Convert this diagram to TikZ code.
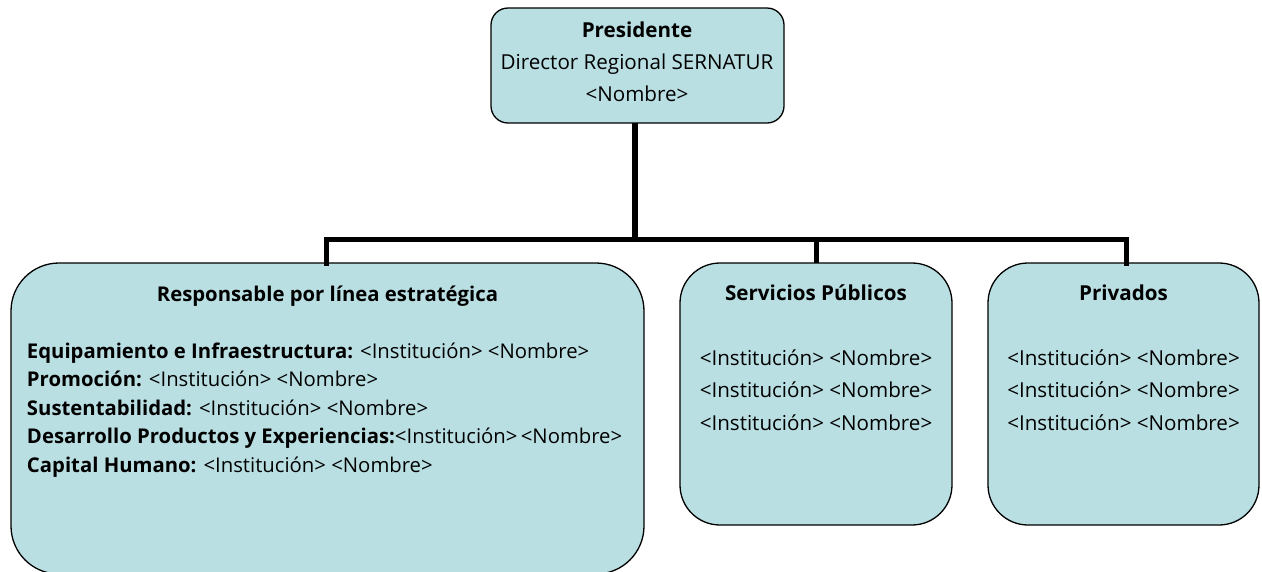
\documentclass[tikz,border=0pt]{standalone}
\usepackage{fontspec}
\setmainfont{Open Sans}
\definecolor{boxfill}{RGB}{185,223,227}
\begin{document}
\begin{tikzpicture}[x=1pt,y=-1pt,
  box/.style={draw=black,line width=1.3pt,fill=boxfill,inner sep=0pt,outer sep=0pt},
  conn/.style={line width=5pt,draw=black,line cap=rect},
  txt/.style={inner sep=0pt,outer sep=0pt,font=\fontsize{20.6}{24}\selectfont},
  ttl/.style={txt,anchor=base,font=\fontsize{20.6}{24}\selectfont\bfseries},
  ltxt/.style={inner sep=0pt,outer sep=0pt,font=\fontsize{20.3}{24}\selectfont},
  lttl/.style={ltxt,anchor=base,font=\fontsize{20.3}{24}\selectfont\bfseries},
  ln/.style={ltxt,anchor=base west},
  lnc/.style={txt,anchor=base}]
\useasboundingbox (0,0) rectangle (1262,571);
% boxes
\node[box,rounded corners=17pt,minimum width=293pt,minimum height=115pt] (pres) at (637.5,65.5) {};
\node[box,rounded corners=48pt,minimum width=633pt,minimum height=311pt] (resp) at (327.5,418.5) {};
\node[box,rounded corners=40pt,minimum width=272pt,minimum height=262pt] (serv) at (816,394) {};
\node[box,rounded corners=40pt,minimum width=271pt,minimum height=262pt] (priv) at (1123.5,394) {};
% connectors
\coordinate (tr) at (635,239.5);
\coordinate (jl) at (326,239.5);
\coordinate (jr) at (1126,239.5);
\draw[conn,line width=6pt,line cap=butt] (pres.south -| tr) -- (tr);
\draw[conn] (resp.north -| jl) -- (jl) -- (jr) -- (priv.north -| jr);
\draw[conn,line cap=butt] (tr -| serv.north) -- (serv.north);
\draw[conn,line cap=butt] (resp.north -| jl) -- (jl);
\draw[conn,line cap=butt] (priv.north -| jr) -- (jr);
% top box text
\node[ttl] (t1) at (637,37) {Presidente};
\node[lnc] (t2) at (637,69) {Director Regional SERNATUR};
\node[lnc] (t3) at (637,101) {<Nombre>};
% left box
\node[lttl] (r0) at (327.5,301) {Responsable por línea estratégica};
\node[ln] (r1) at (27,358) {\textbf{Equipamiento e Infraestructura:} <Institución> <Nombre>};
\node[ln] (r2) at (27,386.5) {\textbf{Promoción:} <Institución> <Nombre>};
\node[ln] (r3) at (27,415) {\textbf{Sustentabilidad:} <Institución> <Nombre>};
\node[ln] (r4) at (27,443.5) {\textbf{Desarrollo Productos y Experiencias:}<Institución>\,<Nombre>};
\node[ln] (r5) at (27,472) {\textbf{Capital Humano:} <Institución> <Nombre>};
% middle box
\node[ttl] (s0) at (816,300) {Servicios Públicos};
\node[lnc] (s1) at (816,365) {<Institución> <Nombre>};
\node[lnc] (s2) at (816,397.5) {<Institución> <Nombre>};
\node[lnc] (s3) at (816,430) {<Institución> <Nombre>};
% right box
\node[ttl] (p0) at (1123.5,300) {Privados};
\node[lnc] (p1) at (1123.5,365) {<Institución> <Nombre>};
\node[lnc] (p2) at (1123.5,397.5) {<Institución> <Nombre>};
\node[lnc] (p3) at (1123.5,430) {<Institución> <Nombre>};
\end{tikzpicture}
\end{document}
